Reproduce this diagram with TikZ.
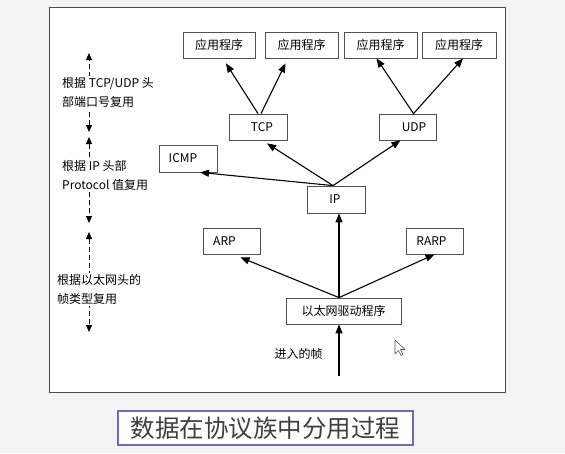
\documentclass[tikz,border=0pt]{standalone}
\usepackage{fontspec}
\setmainfont{Noto Sans CJK SC}
\usetikzlibrary{arrows.meta}
\definecolor{pagebg}{HTML}{F4F4F5}
\definecolor{framecol}{HTML}{4A4A4A}
\definecolor{boxline}{HTML}{505050}
\definecolor{titleline}{HTML}{7468B8}
\definecolor{titletext}{HTML}{404040}
\begin{document}
\begin{tikzpicture}[x=1pt,y=-1pt,
  box/.style={draw=boxline, line width=0.8pt, fill=white, inner sep=0pt,
    minimum height=26pt, font=\fontsize{12}{14}\selectfont},
  tag/.style={font=\fontsize{12}{14}\selectfont, inner sep=0pt},
  note/.style={fill=white, inner sep=1pt, align=left, anchor=west,
    font=\fontsize{12}{19}\selectfont},
  arr/.style={-{Triangle[length=9pt,width=7pt]}, line width=1.1pt},
  dasharr/.style={{Triangle[length=7pt,width=6pt]}-{Triangle[length=7pt,width=6pt]},
    dash pattern=on 5pt off 3pt, line width=1pt},
  titlebox/.style={draw=titleline, line width=1.6pt, fill=white, inner sep=0pt,
    minimum width=295pt, minimum height=34pt, text=titletext,
    font=\fontsize{24.5}{27}\selectfont}
]
\useasboundingbox (0,0) rectangle (565,453);
\fill[pagebg] (0,0) rectangle (565,453);
% outer frame
\draw[framecol, line width=0.9pt, fill=white] (49,7) rectangle (505,392);

% application layer
\node[box, minimum width=72pt] (app1) at (219,45) {应用程序};
\node[box, minimum width=73pt] (app2) at (301.5,45) {应用程序};
\node[box, minimum width=73pt] (app3) at (380.5,45) {应用程序};
\node[box, minimum width=74pt] (app4) at (459,45) {应用程序};

% transport layer
\node[box, minimum width=58pt, label={[tag,xshift=4pt]center:TCP}] (tcp) at (258,127) {};
\node[box, minimum width=57pt, label={[tag,xshift=6.5pt]center:UDP}] (udp) at (407.5,127) {};

% network layer
\node[box, minimum width=58pt, minimum height=27pt, label={[tag,xshift=-5pt]center:ICMP}] (icmp) at (188,158.5) {};
\node[box, minimum width=58pt, minimum height=27pt, label={[tag,xshift=-1pt]center:IP}] (ip) at (336,199.5) {};
\node[box, minimum width=57pt, label={[tag,xshift=-7pt]center:ARP}] (arp) at (231.5,241) {};
\node[box, minimum width=57pt, label={[tag,xshift=-3pt]center:RARP}] (rarp) at (434.5,241) {};

% link layer
\node[box, minimum width=115pt] (drv) at (343.5,311) {以太网驱动程序};
\coordinate (inframe) at (339,376);
\node[tag] (inlabel) at (298.5,354) {进入的帧};

% demultiplexing arrows
\draw[arr] (tcp.north) -- ([xshift=7pt,yshift=-5pt]app1.south);
\draw[arr] ([xshift=3pt]tcp.north) -- ([xshift=-16pt,yshift=-5pt]app2.south);
\draw[arr] ([xshift=6pt]udp.north) -- ([xshift=-4pt]app3.south);
\draw[arr] ([xshift=6pt]udp.north) -- ([xshift=4pt]app4.south);
\draw[arr] ([xshift=-3pt]ip.north) -- ([xshift=12pt]icmp.south);
\draw[arr] ([xshift=-3pt]ip.north) -- ([xshift=9pt,yshift=-3pt]tcp.south);
\draw[arr] ([xshift=-3pt]ip.north) -- ([xshift=-7pt]udp.south);
\draw[arr] ([xshift=-4.5pt]drv.north) -- ([xshift=9pt,yshift=-3pt]arp.south);
\draw[arr] ([xshift=-4.5pt]drv.north) -- ([xshift=3pt]ip.south);
\draw[arr] ([xshift=-4.5pt]drv.north) -- (rarp.south);
\draw[arr] (inframe) -- ([xshift=-4.5pt]drv.south);

% layer brackets on the left
\coordinate (s1a) at (89,132);
\coordinate (s1b) at (89,53);
\coordinate (s2a) at (89,137);
\coordinate (s2b) at (89,223);
\coordinate (s3a) at (89,232);
\coordinate (s3b) at (89,332);
\draw[dasharr] (s1a) -- (s1b);
\draw[dasharr] (s2a) -- (s2b);
\draw[dasharr] (s3a) -- (s3b);
\node[note] (n1) at (61,92.5) {根据 TCP/UDP 头\\部端口号复用};
\node[note] (n2) at (61,175.5) {根据 IP 头部\\Protocol 值复用};
\node[note] (n3) at (56,289.5) {根据以太网头的\\帧类型复用};

% pointer
\draw[boxline, fill=white, line width=0.6pt, line join=round]
  (395,340) -- (395,354) -- (398.5,350.5) -- (401,355.5) -- (403,354.5)
  -- (400.5,349.5) -- (405,349.5) -- cycle;

% caption
\node[titlebox] (title) at (265.5,428) {数据在协议族中分用过程};
\end{tikzpicture}
\end{document}
